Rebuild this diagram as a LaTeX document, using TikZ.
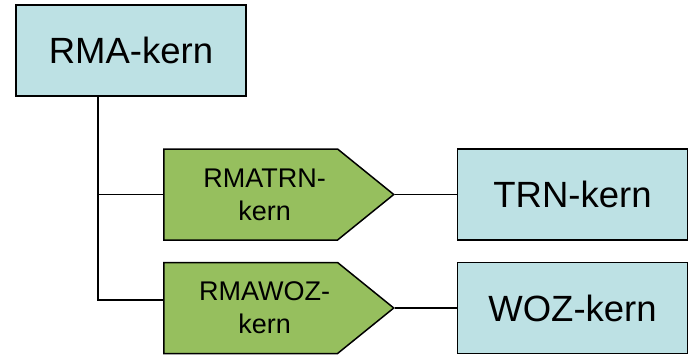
\documentclass[tikz,border=0pt]{standalone}
\usepackage{fontspec}
\setmainfont{Liberation Sans}
\usetikzlibrary{shapes.symbols}
\definecolor{kernblue}{HTML}{BDE1E4}
\definecolor{linkgreen}{HTML}{96BF5E}

\begin{document}
\begin{tikzpicture}[x=1pt,y=-1pt,line width=1.5pt,
  kern/.style = {draw, fill=kernblue, shape=rectangle, minimum width=230pt, minimum height=91pt, inner sep=0pt, font=\fontsize{36.5}{40}\selectfont},
  link/.style = {draw, fill=linkgreen, shape=signal, signal to=east, signal pointer angle=78, minimum width=230pt, minimum height=91pt, inner sep=0pt, align=center, font=\fontsize{27}{33}\selectfont}]
\useasboundingbox (0,0) rectangle (688,361);
\node[kern] (rma) at (131,50.5) {RMA-kern};
\node[link,anchor=west] (rmatrn) at (163,194.5) {\hspace*{28pt}RMATRN-\\\hspace*{28pt}kern};
\node[link,anchor=west] (rmawoz) at (163,308) {\hspace*{28pt}RMAWOZ-\\\hspace*{28pt}kern};
\node[kern] (trn) at (572.5,194.5) {TRN-kern};
\node[kern] (woz) at (572.5,308) {WOZ-kern};
\coordinate (split) at (98,300);
\draw (rma.south -| split) -- (split) -- (split -| rmawoz.west);
\draw (rma.south -| split) |- (rmatrn.west);
\draw (rmatrn.east) -- (trn.west);
\draw (rmawoz.east) -- (woz.west);
\end{tikzpicture}
\end{document}
